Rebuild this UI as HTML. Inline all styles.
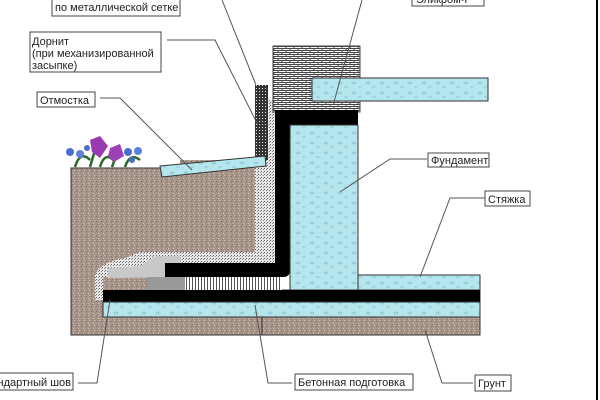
<!DOCTYPE html>
<html><head><meta charset="utf-8"><style>
html,body{margin:0;padding:0;background:#fff;}
svg{display:block;}
text{font-family:"Liberation Sans",sans-serif;font-size:11px;fill:#222;}
</style></head><body>
<svg width="600" height="400" viewBox="0 0 600 400" xmlns="http://www.w3.org/2000/svg">
<defs>
<pattern id="soil" width="5" height="5" patternUnits="userSpaceOnUse">
<rect width="5" height="5" fill="#a89589"/>
<rect x="1" y="1" width="1" height="1" fill="#7d6d63"/><rect x="3" y="3" width="1" height="1" fill="#d0c3b9"/><rect x="2" y="4" width="1" height="1" fill="#8a7a70"/><rect x="4" y="0" width="1" height="1" fill="#cbbdb3"/>
</pattern>
<pattern id="conc" width="14" height="10" patternUnits="userSpaceOnUse">
<rect width="14" height="10" fill="#b5e6ee"/>
<ellipse cx="4" cy="3" rx="2.5" ry="1.5" fill="#98d0dc"/><ellipse cx="10" cy="7" rx="2" ry="1.2" fill="#a0d6e0"/>
</pattern>
<pattern id="brick" width="8" height="4" patternUnits="userSpaceOnUse">
<rect width="8" height="4" fill="#fff"/>
<path d="M0 0.5H8M0 2.5H8M2 0.5V2.5M6 2.5V4.5" stroke="#444" stroke-width="1"/>
</pattern>
<pattern id="mesh" width="3" height="3" patternUnits="userSpaceOnUse">
<rect width="3" height="3" fill="#333"/><rect x="1" y="1" width="1" height="1" fill="#ddd"/>
</pattern>
<pattern id="dots" width="3" height="3" patternUnits="userSpaceOnUse">
<rect width="3" height="3" fill="#e6e6e6"/><rect x="0" y="0" width="1" height="1" fill="#666"/><rect x="2" y="1" width="1" height="1" fill="#888"/>
</pattern>
<pattern id="vstripe" width="3" height="3" patternUnits="userSpaceOnUse">
<rect width="3" height="3" fill="#fff"/><rect width="1" height="3" fill="#555"/>
</pattern>
</defs>
<line x1="597" y1="0" x2="597" y2="400" stroke="#000" stroke-width="2"/>
<path d="M71 168 L160 168 L262 158 L262 335 L71 335Z M262 290 L480 290 L480 335 L262 335Z" fill="url(#soil)" stroke="#333" stroke-width="1"/>
<rect x="180" y="160" width="95" height="130" fill="url(#soil)"/>
<path d="M255 100 L275 100 L275 277 L103 277 L103 300 L95 300 L95 275 Q100 262 125 258 L140 252 L255 252Z" fill="url(#dots)"/>
<path d="M108 278 L108 268 L140 266 L155 256 L180 256 L185 277 Z" fill="#c8c8c8"/>
<rect x="148" y="277" width="37" height="13" fill="#999"/>
<rect x="185" y="277" width="97" height="13" fill="url(#vstripe)"/>
<rect x="255" y="85" width="13" height="75" fill="url(#mesh)"/>
<rect x="273" y="46" width="87" height="66" fill="url(#brick)" stroke="#444"/>
<path d="M275 110 L358 110 L358 125 L290 125 L290 270 Q290 277 283 277 L165 277 L165 263 L275 263Z" fill="#000"/>
<rect x="290" y="125" width="68" height="165" fill="url(#conc)" stroke="#333"/>
<rect x="312" y="78" width="176" height="23" fill="url(#conc)" stroke="#333"/>
<rect x="358" y="275" width="122" height="15" fill="url(#conc)" stroke="#333"/>
<rect x="103" y="290" width="377" height="12" fill="#000"/>
<rect x="103" y="302" width="377" height="15" fill="url(#conc)" stroke="#333"/>
<path d="M160 166 L265 156 L266 166 L162 177Z" fill="url(#conc)" stroke="#333"/>
<g>
<path d="M75 167 Q80 150 90 160 M100 167 Q105 150 115 162 M125 167 Q130 152 140 160 M90 167 L95 150 M112 167 L118 150" stroke="#2a6a2a" stroke-width="2.5" fill="none"/>
<circle cx="70" cy="152" r="4" fill="#4a6ed0"/><circle cx="80" cy="154" r="4" fill="#5a80e0"/><circle cx="87" cy="148" r="3" fill="#4a6ed0"/>
<path d="M90 140 L100 136 L108 146 L100 158 L92 152Z" fill="#9a3ab0"/>
<path d="M110 148 L120 144 L124 156 L114 162 L108 156Z" fill="#a040b8"/>
<circle cx="128" cy="152" r="4" fill="#4a6ed0"/><circle cx="138" cy="151" r="4" fill="#5a80e0"/><circle cx="132" cy="160" r="3" fill="#4a6ed0"/>
</g>
<g fill="#fff" stroke="#444" stroke-width="1">
<rect x="52" y="-2" width="128" height="18"/>
<rect x="30" y="32" width="131" height="40"/>
<rect x="37" y="92" width="58" height="15"/>
<rect x="412" y="-5" width="72" height="11"/>
<rect x="428" y="153" width="61" height="14"/>
<rect x="485" y="191" width="45" height="15"/>
<rect x="-5" y="373" width="78" height="17"/>
<rect x="295" y="374" width="118" height="16"/>
<rect x="475" y="375" width="36" height="16"/>
</g>
<text x="55" y="11">по металлической сетке</text>
<text x="32" y="45">Дорнит</text>
<text x="32" y="57">(при  механизированной</text>
<text x="32" y="69">засыпке)</text>
<text x="40" y="104">Отмостка</text>
<text x="416" y="3">Эликром-Г</text>
<text x="431" y="164">Фундамент</text>
<text x="488" y="203">Стяжка</text>
<text x="71" y="386" text-anchor="end">Стандартный шов</text>
<text x="298" y="386">Бетонная  подготовка</text>
<text x="478" y="387">Грунт</text>
<g stroke="#555" stroke-width="1" fill="none">
<path d="M222 0 L256 85"/>
<path d="M167 40 L215 40 L258 125"/>
<path d="M100 98 L120 98 L192 170"/>
<path d="M362 0 L334 102"/>
<path d="M427 159 L390 159 L340 192"/>
<path d="M485 198 L450 198 L420 277"/>
<path d="M78 383 L97 383 L110 300"/>
<path d="M292 383 L268 383 L255 305"/>
<path d="M473 383 L442 383 L425 330"/>
</g>
</svg>
</body></html>
